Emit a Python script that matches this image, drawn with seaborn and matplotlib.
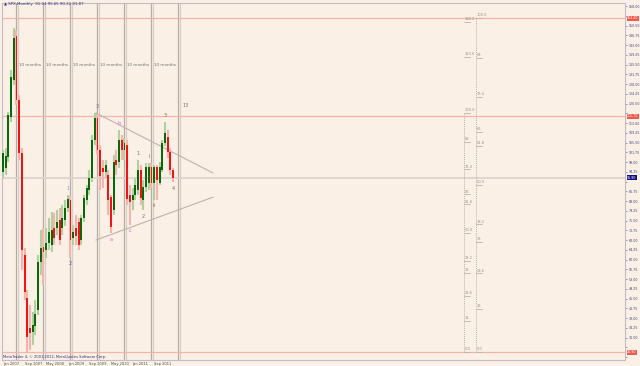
import numpy as np
import pandas as pd
import matplotlib
matplotlib.use("Agg")
import matplotlib.pyplot as plt
import seaborn as sns

# ---------------- data (monthly candles) ----------------
opens = [94.2, 95.7, 99.9, 115.3, 129.5, 146.5, 121.9, 101.5, 62.2, 45.7,
         34.2, 32.6, 34.9, 41.1, 59.5, 65.3, 64.2, 66.9, 66.1, 72.6,
         72.6, 75.7, 72.6, 75.7, 80.3, 83.4, 68.8, 72.6, 74.9, 68.0,
         76.5, 83.4, 87.2, 91.9, 106.5, 114.9, 102.6, 95.7, 94.2, 93.0,
         84.5, 79.5, 98.8, 98.0, 106.5, 102.6, 104.5, 85.3, 83.4, 85.3,
         87.2, 94.9, 83.4, 88.4, 89.9, 96.1, 89.9, 96.1, 89.9, 94.9,
         105.3, 107.6, 101.9, 94.9]
closes = [101.5, 100.3, 116.1, 130.7, 145.7, 121.9, 101.5, 64.2, 48.0, 30.7,
          32.2, 35.3, 39.5, 59.5, 64.9, 63.4, 66.9, 71.1, 71.9, 68.8,
          74.9, 68.0, 76.5, 80.3, 83.8, 68.0, 71.1, 69.5, 66.1, 76.5,
          84.2, 88.0, 91.9, 106.5, 114.9, 102.6, 92.6, 94.2, 96.9, 83.4,
          73.0, 98.0, 96.9, 106.5, 102.6, 105.3, 83.8, 82.6, 85.3, 89.2,
          94.9, 84.2, 88.4, 96.1, 96.1, 89.9, 96.1, 91.1, 96.1, 105.3,
          109.2, 101.9, 94.9, 91.9]
highs = [102.6, 103.4, 117.2, 133.4, 149.5, 148.8, 123.8, 103.4, 64.9, 48.8,
         43.0, 40.3, 44.9, 62.2, 71.9, 72.6, 72.6, 76.5, 78.8, 78.4,
         79.5, 80.3, 81.5, 83.4, 85.3, 84.9, 73.8, 77.6, 76.5, 77.6,
         85.3, 89.2, 94.9, 108.4, 116.9, 116.9, 104.5, 98.8, 98.8, 94.9,
         85.3, 100.7, 102.6, 110.3, 108.4, 107.2, 106.5, 89.2, 88.0, 91.9,
         98.8, 96.9, 91.1, 97.6, 97.6, 97.6, 96.9, 96.9, 98.0, 106.5,
         113.4, 110.3, 103.4, 95.7]
lows = [91.9, 93.0, 98.0, 113.4, 127.6, 119.9, 98.8, 56.5, 44.9, 24.9,
        25.7, 27.6, 31.5, 39.2, 54.5, 50.7, 61.1, 64.2, 63.4, 66.1,
        69.9, 66.1, 69.9, 73.4, 78.8, 61.1, 66.1, 66.1, 64.2, 66.1,
        74.9, 81.5, 85.3, 90.3, 104.5, 100.7, 87.2, 88.0, 91.9, 77.6,
        70.7, 77.6, 93.0, 95.7, 98.8, 98.8, 81.5, 73.8, 79.5, 83.4,
        85.3, 81.5, 79.5, 86.5, 87.2, 88.0, 83.4, 83.4, 89.2, 94.2,
        104.2, 99.5, 93.0, 90.3]

date_tick_pos = [0, 8, 16, 24, 32, 40, 48, 56]
date_tick_labels = ["Jan 2007", "Sep 2007", "May 2008", "Jan 2009",
                    "Sep 2009", "May 2010", "Jan 2011", "Sep 2011"]

marker_months = [5, 15, 25, 35, 45, 55, 65]
marker_text = "10 months"

red_levels = [153.4, 115.7, 24.9]

upper_tl_x = [34.4, 77.8]
upper_tl_y = [116.9, 93.8]
lower_tl_x = [34.4, 77.8]
lower_tl_y = [68.0, 84.5]

wave_idx = [35, 24, 25, 40, 43, 47, 50, 52, 54, 56, 60, 63]
wave_txt = ["3", "1", "2", "a", "b", "c", "1", "2", "i", "ii", "3", "4"]
wave_pos = ["high", "high", "low", "low", "high", "low", "high", "low",
            "high", "low", "high", "low"]
wave_col = ["#707070", "#9090E8", "#6060B0", "#E060D0", "#E060D0", "#B060E0",
            "#707070", "#707070", "#707070", "#707070", "#707070", "#707070"]

extra_label_x = 66.5
extra_label_y = 119.9
extra_label_txt = "13"

fib_a_x, fib_a_low, fib_a_high = 170.7, 24.9, 116.9
fib_a_levels = [138.2, 123.6, 100.0, 88, 76.4, 66, 61.8, 50.0, 38.2, 33, 23.6, 13, 0.0]
fib_b_x, fib_b_low, fib_b_high = 175.2, 24.9, 153.4
fib_b_levels = [100.0, 88, 76.4, 66, 61.8, 50.0, 38.2, 33, 23.6, 13, 0.0]

title_txt = "\u25b2 SPX,Monthly  91.94 95.65 90.32 91.87"
footer_txt = "MetaTrader 4, \u00a9 2001-2013, MetaQuotes Software Corp."

# ---------------- style ----------------
BG = "#FAF0E6"
sns.set_style("white", {"axes.facecolor": BG, "figure.facecolor": BG})
plt.rcParams['font.family'] = ['DejaVu Sans']

W, H = 640, 366
fig = plt.figure(figsize=(6.4, 3.66), dpi=100)
fig.patch.set_facecolor(BG)
ax = fig.add_axes([2 / W, 6 / H, 623 / W, 357 / H])
ax.set_facecolor(BG)

df = pd.DataFrame({"idx": np.arange(len(opens)), "open": opens, "close": closes,
                   "high": highs, "low": lows})
df["up"] = df["close"] >= df["open"]

ax.set_xlim(-0.37, 230.4)
ax.set_ylim(21.85, 159.2)

# marker lines
for m in marker_months:
    ax.axvline(m - 0.25, color="#B4ACA4", lw=0.9, zorder=1)
    ax.axvline(m + 0.45, color="#D8D0C8", lw=0.9, zorder=1)
for a, b in zip(marker_months[:-1], marker_months[1:]):
    ax.text((a + b) / 2, 135.3, marker_text, fontsize=3, color="#707070",
            ha="center", va="center", zorder=3)

# horizontal levels
for lv in red_levels:
    ax.axhline(lv, color="#F6B4A8", lw=0.9, zorder=1)
ax.axhline(closes[-1], color="#DDD5CD", lw=1.3, zorder=1)

# candles
wick_cols = np.where(df["up"], "#B0D0A0", "#F6B4AC")
body_cols = np.where(df["up"], "#0A680A", "#F01414")
ax.vlines(df["idx"], df["low"], df["high"], colors=wick_cols, lw=1.5, zorder=2)
bottoms = np.minimum(df["open"], df["close"])
heights = np.maximum(np.abs(df["close"] - df["open"]), 0.4)
ax.bar(df["idx"], heights, bottom=bottoms, width=0.7, color=body_cols,
       linewidth=0, zorder=3)

# triangle trendlines
tl = pd.DataFrame({"x": upper_tl_x + lower_tl_x, "y": upper_tl_y + lower_tl_y,
                   "line": ["upper", "upper", "lower", "lower"]})
sns.lineplot(data=tl, x="x", y="y", units="line", estimator=None, ax=ax,
             color="#BDB3AC", lw=0.8, zorder=2)

# wave labels
for i, t, p, c in zip(wave_idx, wave_txt, wave_pos, wave_col):
    if p == "high":
        ax.annotate(t, xy=(i, highs[i]), xytext=(0, 3), textcoords="offset points",
                    ha="center", va="bottom", fontsize=3.6, color=c, zorder=4)
    else:
        ax.annotate(t, xy=(i, lows[i]), xytext=(0, -2.5), textcoords="offset points",
                    ha="center", va="top", fontsize=3.6, color=c, zorder=4)
ax.text(extra_label_x, extra_label_y, extra_label_txt, fontsize=3.6,
        color="#707070", ha="left", va="center")

# fib ladders
def fib(xpos, low, high, levels, vtop):
    prices = [low + (high - low) * lv / 100 for lv in levels]
    top = low + (high - low) * vtop / 100
    ax.plot([xpos, xpos], [low, top], color="#BDB3AC", lw=0.7, ls=(0, (1, 1)), zorder=2)
    for lv, pr in zip(levels, prices):
        ax.plot([xpos, xpos + 2.3], [pr, pr], color="#BDB3AC", lw=0.6, zorder=2)
        ax.annotate(f"{lv:g}" if lv not in (100.0, 50.0, 0.0) else f"{lv:.1f}",
                    xy=(xpos + 0.3, pr), xytext=(0, 0.5), textcoords="offset points",
                    ha="left", va="bottom", fontsize=2.6, color="#9A928A")

fib(fib_a_x, fib_a_low, fib_a_high, fib_a_levels, 100)
fib(fib_b_x, fib_b_low, fib_b_high, fib_b_levels, 100)

# axes / ticks (labels hidden where a price box sits)
yt = np.arange(23, 158.01, 3.75)
boxed = red_levels + [closes[-1]]
ax.yaxis.tick_right()
ax.set_yticks(yt)
ax.set_yticklabels([("" if min(abs(v - b) for b in boxed) < 2.0 else f"{v:.2f}")
                    for v in yt])
ax.tick_params(axis="y", labelsize=2.3, colors="#7070A0", length=1.5, width=0.5,
               pad=1.0, labelcolor="#404080")
ax.set_xticks(date_tick_pos)
ax.set_xticklabels(date_tick_labels)
ax.tick_params(axis="x", labelsize=2.6, length=1, width=0.4, pad=0.5,
               colors="#909090", labelcolor="#505050")
for lab in ax.get_xticklabels():
    lab.set_horizontalalignment("left")
for s in ax.spines.values():
    s.set_color("#C4BCC4")
    s.set_linewidth(0.8)

# price boxes at right
for lv in red_levels:
    ax.annotate(f"{lv:.2f}", xy=(1.0, lv), xycoords=("axes fraction", "data"),
                xytext=(1.5, 0), textcoords="offset points", fontsize=2.3,
                color="white", va="center", ha="left",
                bbox=dict(boxstyle="square,pad=0.15", fc="#F05A4A", ec="none"))
ax.annotate(f"{closes[-1]:.2f}", xy=(1.0, closes[-1]), xycoords=("axes fraction", "data"),
            xytext=(1.5, 0), textcoords="offset points", fontsize=2.3,
            color="white", va="center", ha="left",
            bbox=dict(boxstyle="square,pad=0.15", fc="#101080", ec="none"))

ax.set_xlabel("")
ax.set_ylabel("")
fig.text(4 / W, 1 - 4 / H, title_txt, fontsize=2.8, color="#303070", va="center")
fig.text(3 / W, 1 - 357 / H, footer_txt, fontsize=2.6, color="#303080", va="center")

fig.savefig("out.png", dpi=100, facecolor=BG)
